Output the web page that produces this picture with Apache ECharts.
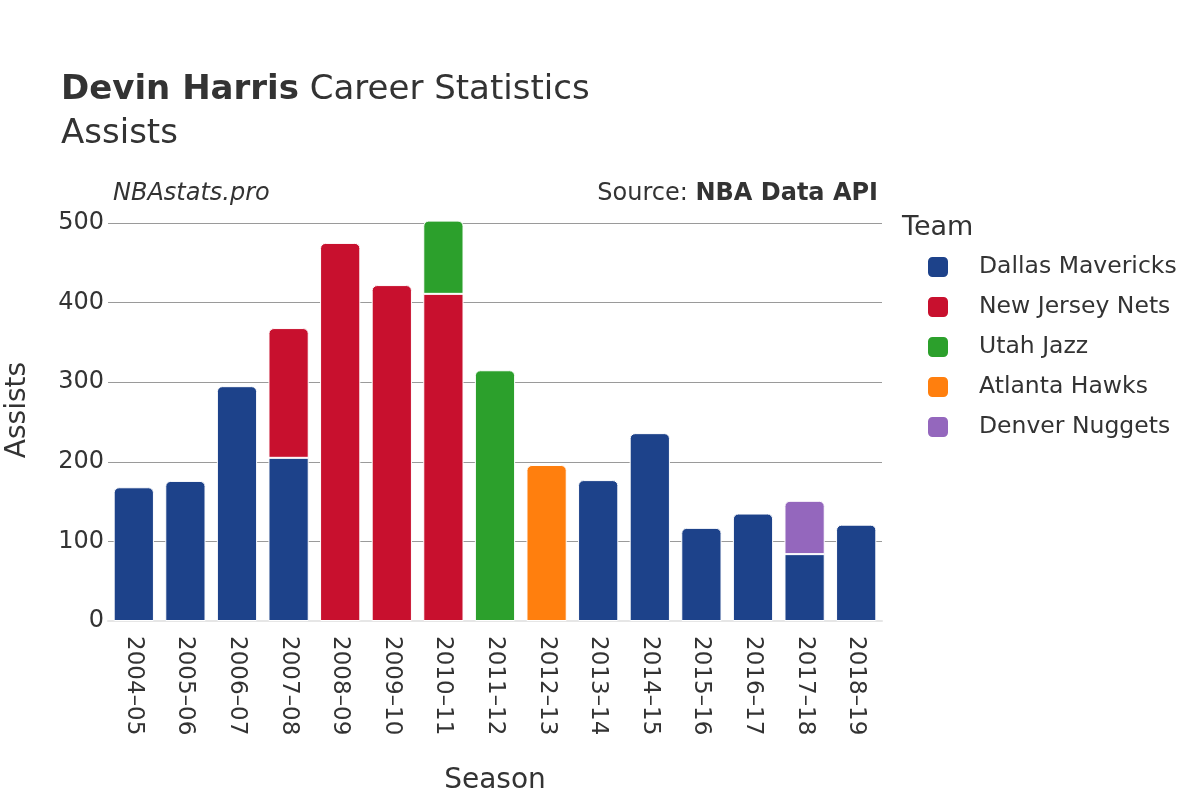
<!DOCTYPE html>
<html>
<head>
<meta charset="utf-8">
<script src="https://cdn.jsdelivr.net/npm/echarts@6/dist/echarts.min.js"></script>
<style>html,body{margin:0;padding:0;background:#fff;}#c{width:1200px;height:800px;}</style>
</head>
<body>
<div id="c"></div>
<script>
const seasons = ['2004–05','2005–06','2006–07','2007–08','2008–09','2009–10','2010–11','2011–12','2012–13','2013–14','2014–15','2015–16','2016–17','2017–18','2018–19'];
const teams = ['Dallas Mavericks','New Jersey Nets','Utah Jazz','Atlanta Hawks','Denver Nuggets'];
const colors = ['#1d428a','#c8102e','#2ca02c','#ff7f0e','#9467bd'];
const dallas = [168,176,295,205,null,null,null,null,null,177,236,117,135,84,121];
const nets   = [null,null,null,163,475,422,411,null,null,null,null,null,null,null,null];
const jazz   = [null,null,null,null,null,null,92,315,null,null,null,null,null,null,null];
const hawks  = [null,null,null,null,null,null,null,null,196,null,null,null,null,null,null];
const denver = [null,null,null,null,null,null,null,null,null,null,null,null,null,67,null];
const yTicks = [0,100,200,300,400,500];

const all = [dallas,nets,jazz,hawks,denver];
const font = 'DejaVu Sans';
const series = all.map((arr, si) => ({
  name: teams[si],
  type: 'bar',
  stack: 'total',
  clip: false,
  barCategoryGap: '22%',
  itemStyle: { color: colors[si], borderColor: '#ffffff', borderWidth: 1 },
  data: arr.map((v, i) => {
    if (v == null) return null;
    const hasAbove = all.slice(si + 1).some(a => a[i] != null);
    return { value: v, itemStyle: { borderRadius: hasAbove ? [0,0,0,0] : [5,5,0,0] } };
  })
}));

const chart = echarts.init(document.getElementById('c'));
chart.setOption({
  animation: false,
  backgroundColor: '#ffffff',
  textStyle: { fontFamily: font },
  grid: { left: 108, right: 318, top: 223, height: 398, containLabel: false, outerBoundsMode: 'none' },
  title: [
    { text: '{b|Devin Harris} Career Statistics', left: 61, top: 73, padding: 0,
      textStyle: { fontFamily: font, fontSize: 34, color: '#333', fontWeight: 'normal',
        rich: { b: { fontFamily: font, fontSize: 34, fontWeight: 'bold', color: '#333' } } } },
    { text: 'Assists', left: 61, top: 117, padding: 0, textStyle: { fontFamily: font, fontSize: 34, color: '#333', fontWeight: 'normal' } },
    { text: 'NBAstats.pro', left: 113, top: 182, padding: 0, textStyle: { fontFamily: font, fontSize: 24, color: '#333', fontStyle: 'italic', fontWeight: 'normal' } },
    { text: 'Source: {b|NBA Data API}', right: 322, top: 182, padding: 0,
      textStyle: { fontFamily: font, fontSize: 24, color: '#333', fontWeight: 'normal',
        rich: { b: { fontFamily: font, fontSize: 24, fontWeight: 'bold', color: '#333' } } } },
    { text: 'Team', left: 902, top: 214, padding: 0, textStyle: { fontFamily: font, fontSize: 27, color: '#333', fontWeight: 'normal' } }
  ],
  graphic: [{
    type: 'text', x: 18, y: 410, rotation: Math.PI / 2,
    style: { text: 'Assists', fontFamily: font, fontSize: 28, fill: '#333', textAlign: 'center', textVerticalAlign: 'middle' }
  }],
  legend: {
    orient: 'vertical', left: 926, top: 255, padding: 0,
    icon: 'roundRect', itemWidth: 22, itemHeight: 22, itemGap: 16,
    data: teams,
    textStyle: { fontFamily: font, fontSize: 23.5, lineHeight: 22, color: '#333', padding: [0,0,0,25] }
  },
  xAxis: {
    type: 'category', data: seasons,
    name: 'Season', nameLocation: 'middle', nameGap: 146,
    nameTextStyle: { fontFamily: font, fontSize: 28, color: '#333' },
    axisLine: { lineStyle: { color: '#e6e6e6', width: 2 } },
    axisTick: { show: false },
    axisLabel: { rotate: -90, fontFamily: font, fontSize: 23, color: '#333', margin: 15 }
  },
  yAxis: {
    type: 'value', min: 0, max: 500, interval: 100,
    axisLine: { show: false }, axisTick: { show: false },
    splitLine: { lineStyle: { color: '#9a9a9a', width: 1 } },
    axisLabel: { fontFamily: font, fontSize: 24, color: '#333', margin: 4,
      formatter: v => yTicks.includes(v) ? String(v) : '' }
  },
  series: series
});
</script>
</body>
</html>
